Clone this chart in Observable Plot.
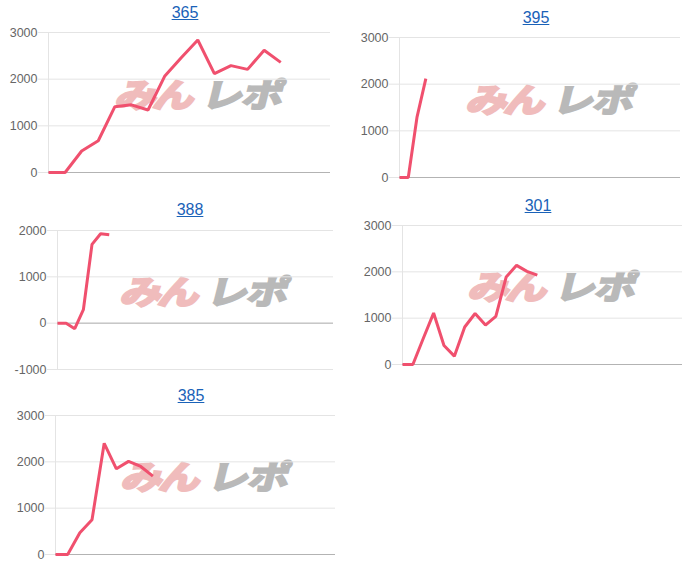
<!DOCTYPE html>
<html>
<head>
<meta charset="utf-8">
<script src="https://cdn.jsdelivr.net/npm/d3@7"></script>
<script src="https://cdn.jsdelivr.net/npm/@observablehq/plot@0.6"></script>
<style>
  html, body { margin: 0; padding: 0; background: #fff; }
  #root { position: relative; width: 700px; height: 573px; overflow: hidden; font-family: "Liberation Sans", Arial, sans-serif; }
  .title { position: absolute; width: 100px; text-align: center; font-size: 16px; line-height: 18px; }
  .title a { color: #1a62b8; text-decoration: underline; }
  .wm { position: absolute; width: 180px; height: 34px; white-space: nowrap; z-index: 0;
        font-family: "Noto Sans CJK JP", sans-serif; font-weight: 700; font-size: 38px; line-height: 34px;
        transform: skewX(-14deg) scale(1.08, 0.86); transform-origin: left bottom; }
  .wm .a { color: #f0bcbc; -webkit-text-stroke: 3px #f0bcbc; letter-spacing: -3px; }
  .wm .b { margin-left: 10px; letter-spacing: -1px; color: #b9b9b9; -webkit-text-stroke: 2.5px #b9b9b9; }
  .panel { position: absolute; z-index: 1; }
</style>
</head>
<body>
<div id="root"></div>
<script>
// ---- data ----
const titles = ["365", "395", "388", "301", "385"];
const s365 = [0, 0, 460, 680, 1410, 1450, 1340, 2060, 2460, 2840, 2120, 2290, 2210, 2620, 2360];
const s395 = [0, 0, 1300, 2120];
const s388 = [0, 0, -120, 290, 1700, 1930, 1910];
const s301 = [0, 0, 560, 1110, 410, 180, 810, 1100, 850, 1040, 1890, 2140, 2010, 1930];
const s385 = [0, 0, 470, 750, 2400, 1850, 2010, 1900, 1690];
const series = [s365, s395, s388, s301, s385];
const slotCounts = [18, 33, 33, 28, 24];          // number of x categories per chart
const ticksPos = [0, 1000, 2000, 3000];
const ticksNeg = [-1000, 0, 1000, 2000];
const yTicks = [ticksPos, ticksPos, ticksNeg, ticksPos, ticksPos];
const watermarkA = "みん";
const watermarkB = "レポ";

// ---- layout ----
const layout = [
  {left: 0,   top: 22,  width: 340, height: 160, ml: 48, mr: 10, titleX: 185, titleY: 13, wmX: 114, wmY: 74},
  {left: 350, top: 27,  width: 340, height: 160, ml: 49, mr: 10, titleX: 536, titleY: 18, wmX: 465, wmY: 79},
  {left: 0,   top: 220, width: 340, height: 159, ml: 57, mr: 7,  titleX: 190, titleY: 210, wmX: 119, wmY: 271},
  {left: 350, top: 215, width: 340, height: 159, ml: 52, mr: 8,  titleX: 538, titleY: 206, wmX: 467, wmY: 266},
  {left: 0,   top: 405, width: 340, height: 159, ml: 55, mr: 5,  titleX: 191, titleY: 396, wmX: 120, wmY: 456}
];

const root = document.getElementById("root");
const lineColor = "#f0506e";

series.forEach((vals, k) => {
  const L = layout[k];
  const ticks = yTicks[k];
  const data = vals.map((v, i) => ({i, v}));

  // title
  const t = document.createElement("div");
  t.className = "title";
  t.style.left = (L.titleX - 50) + "px";
  t.style.top = (L.titleY - 9) + "px";
  const a = document.createElement("a");
  a.href = "#";
  a.textContent = titles[k];
  t.appendChild(a);
  root.appendChild(t);

  // watermark
  const wm = document.createElement("div");
  wm.className = "wm";
  wm.style.left = L.wmX + "px";
  wm.style.top = L.wmY + "px";
  wm.innerHTML = `<span class="a">${watermarkA}</span><span class="b">${watermarkB}</span>`;
  root.appendChild(wm);

  const chart = Plot.plot({
    width: L.width,
    height: L.height,
    marginTop: 10,
    marginBottom: 10,
    marginLeft: L.ml,
    marginRight: L.mr,
    style: {background: "transparent", fontFamily: "Liberation Sans, Arial, sans-serif", fontSize: "12.5px", color: "#666", overflow: "visible"},
    x: {domain: [0, slotCounts[k] - 1], axis: null},
    y: {domain: [ticks[0], ticks[ticks.length - 1]], axis: null},
    marks: [
      Plot.ruleY(ticks, {stroke: "#e4e4e4", strokeWidth: 1, insetLeft: -10}),
      Plot.ruleX([0], {stroke: "#e4e4e4", strokeWidth: 1}),
      Plot.ruleY([0], {stroke: "#b3b3b3", strokeWidth: 1}),
      Plot.axisY({ticks, tickSize: 0, tickPadding: 11, label: null, tickFormat: d => String(d), fill: "#666", fontSize: 12.5}),
      Plot.line(data, {x: "i", y: "v", stroke: lineColor, strokeWidth: 3, strokeLinejoin: "miter", strokeLinecap: "butt"})
    ]
  });
  chart.classList.add("panel");
  chart.style.left = L.left + "px";
  chart.style.top = L.top + "px";
  root.appendChild(chart);
});
</script>
</body>
</html>
